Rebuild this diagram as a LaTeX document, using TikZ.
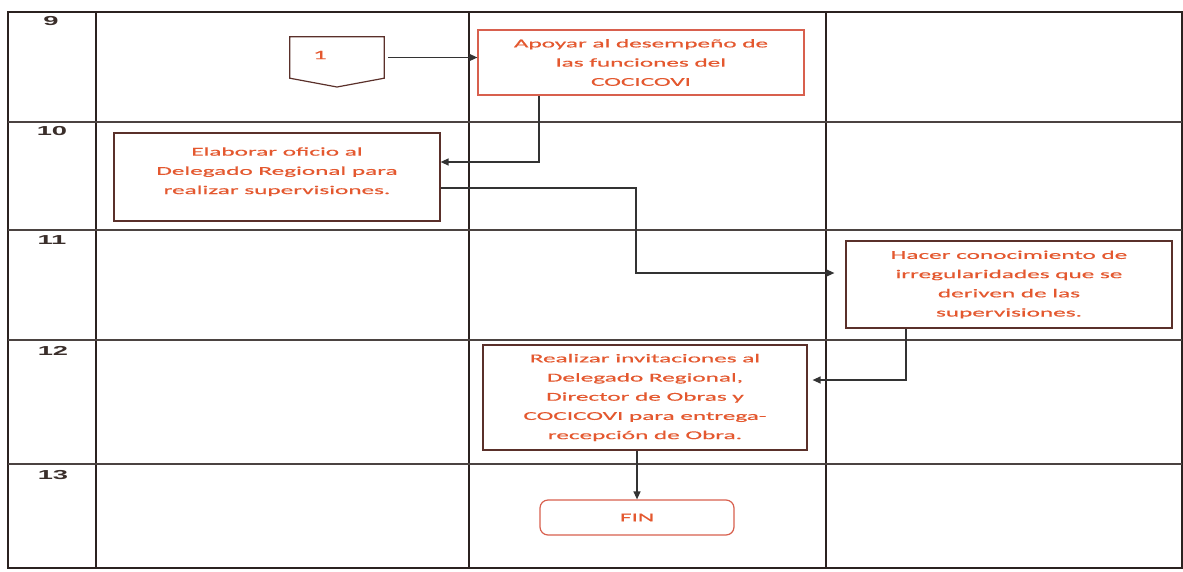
\documentclass[tikz,border=0pt]{standalone}
\usepackage{fontspec}
\usetikzlibrary{arrows.meta}
\newfontfamily\boxfont[FakeStretch=2.1,FakeBold=0.6]{Carlito}
\newfontfamily\rowfont[FakeStretch=2.1]{Liberation Sans}
\definecolor{gridc}{HTML}{2B2220}
\definecolor{rowc}{HTML}{3A2E2A}
\definecolor{txtc}{HTML}{E4582F}
\definecolor{edgedark}{HTML}{5A302A}
\definecolor{edgelight}{HTML}{D8604E}
\definecolor{arrc}{HTML}{333333}
\begin{document}
\begin{tikzpicture}[x=1pt,y=-1pt,
  grid/.style={draw=gridc,line width=1.5pt},
  rowline/.style={draw=gridc!85,line width=1.1pt},
  rownum/.style={font=\rowfont\bfseries\fontsize{13pt}{13pt}\selectfont,text=rowc,inner sep=0pt},
  task/.style={draw=edgedark,line width=1.2pt,fill=white,align=center,inner sep=0pt,
    text=txtc,font=\boxfont\fontsize{12pt}{19.2pt}\selectfont},
  tasklight/.style={task,draw=edgelight},
  flow/.style={draw=arrc,line width=1.3pt,-{Triangle[length=8pt,width=7pt]}},
]
\useasboundingbox (0,0) rectangle (1183,571);

% table frame, lanes and rows
\draw[grid] (8,12) rectangle (1182,568);
\foreach \x in {96,469,826} \draw[grid] (\x,12) -- (\x,568);
\foreach \y in {122,230,340,464} \draw[rowline] (8,\y) -- (1182,\y);

% step numbers
\node[rownum] (r9)  at (51,21)  {9};
\node[rownum] (r10) at (52,131) {10};
\node[rownum] (r11) at (52,240) {11};
\node[rownum] (r12) at (53,351) {12};
\node[rownum] (r13) at (53,475) {13};

% off-page connector 1
\node[minimum width=94pt,minimum height=41pt,inner sep=0pt] (c1) at (337,57.5) {};
\draw[draw=edgedark,line width=1.2pt]
  (c1.north west) -- (c1.north east) -- (c1.south east) -- (c1.south |- 0,87)
  -- (c1.south west) -- cycle;
\node[text=txtc,font=\boxfont\fontsize{13pt}{13pt}\selectfont,inner sep=0pt] (c1t) at (320,55) {1};

% activities
\node[tasklight,minimum width=326pt,minimum height=65pt] (apoyar) at (641,62.5)
  {Apoyar al desempeño de\\las funciones del\\COCICOVI};
\node[task,minimum width=326pt,minimum height=88pt] (elaborar) at (277,177)
  {\raisebox{6pt}[\height][\depth]{\begin{tabular}{@{}c@{}}Elaborar oficio al\\Delegado Regional para\\realizar supervisiones.\end{tabular}}};
\node[task,minimum width=326pt,minimum height=87pt] (hacer) at (1009,284.5)
  {Hacer conocimiento de\\irregularidades que se\\deriven de las\\supervisiones.};
\node[task,minimum width=324pt,minimum height=105pt] (realizar) at (645,397.5)
  {Realizar invitaciones al\\Delegado Regional,\\Director de Obras y\\COCICOVI para entrega-\\recepción de Obra.};
\node[tasklight,rounded corners=8pt,minimum width=194pt,minimum height=35pt] (fin) at (637,517.5) {FIN};

% flow
\draw[flow] ([xshift=4pt]c1.east) -- (c1.east -| apoyar.west);
\draw[flow] (apoyar.south -| 539,0) |- ([yshift=15pt]elaborar.east);
\draw[flow,shorten >=11pt] ([yshift=-11pt]elaborar.east) -| (636,240) |- ([yshift=11.5pt]hacer.west);
\draw[flow,shorten >=5pt] (hacer.south -| 906,0) |- ([yshift=17.5pt]realizar.east);
\draw[flow] (realizar.south -| fin.north) -- (fin.north);
\end{tikzpicture}
\end{document}
